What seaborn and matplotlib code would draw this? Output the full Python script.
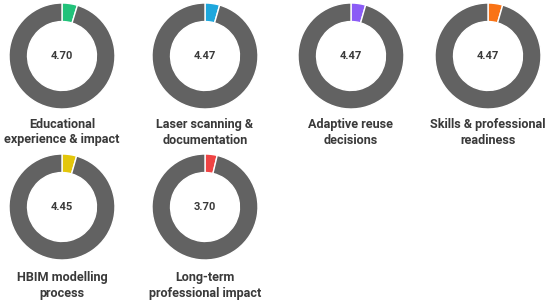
import matplotlib
matplotlib.use("Agg")
import matplotlib.pyplot as plt
import seaborn as sns

# scores (out of 5) shown in the middle of each ring
categories = ["Educational\nexperience & impact", "Laser scanning &\ndocumentation",
              "Adaptive reuse\ndecisions", "Skills & professional\nreadiness",
              "HBIM modelling\nprocess", "Long-term\nprofessional impact"]
scores = [4.70, 4.47, 4.47, 4.47, 4.45, 3.70]
accent = ["#22c27a", "#1ea7dd", "#8b5cf6", "#f97316", "#e3c60b", "#ef4444"]
rest_color = "#626262"

sns.set_theme(style="white")
plt.rcParams["font.family"] = ["Roboto", "DejaVu Sans"]

W, H = 550, 304
fig = plt.figure(figsize=(W / 100, H / 100), dpi=100)

centers_x = [62, 205, 351, 488]
centers_y = [56, 207]
label_y = [[125, 140], [278, 293]]
R = 53

for i, (cat, val, col) in enumerate(zip(categories, scores, accent)):
    r, c = divmod(i, 4)
    cx, cy = centers_x[c], centers_y[r]
    ax = fig.add_axes([(cx - R) / W, (H - cy - R) / H, 2 * R / W, 2 * R / H])
    ax.pie([val, 100 - val], colors=[col, rest_color], startangle=90, counterclock=False,
           radius=1.0, wedgeprops=dict(width=0.35, edgecolor="white", linewidth=1))
    ax.set_xlim(-1, 1)
    ax.set_ylim(-1, 1)
    ax.set_aspect("equal")
    ax.axis("off")
    ax.text(0, 0, f"{val:.2f}", ha="center", va="center", fontsize=8,
            fontweight="bold", color="#3a3a3a")
    for j, line in enumerate(cat.split("\n")):
        fig.text(cx / W, 1 - label_y[r][j] / H, line, ha="center", va="center",
                 fontsize=9.1, fontweight="bold", color="#3a3a3a")

fig.savefig("out.png", dpi=100)
